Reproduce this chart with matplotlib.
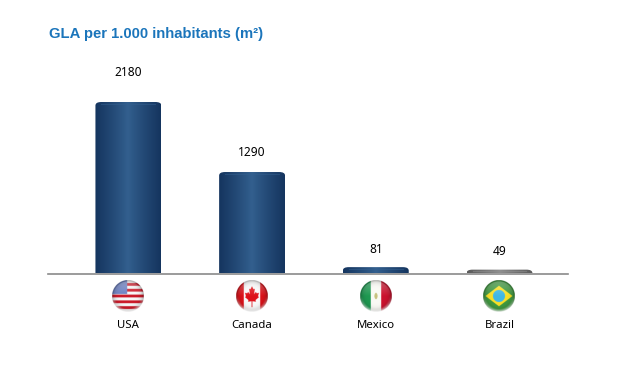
import numpy as np
import matplotlib
matplotlib.use('Agg')
import matplotlib.pyplot as plt
from matplotlib.patches import PathPatch
from matplotlib.path import Path

countries = ['USA', 'Canada', 'Mexico', 'Brazil']
gla_values = [2180, 1290, 81, 49]
label_gaps = [29, 20, 18, 18]  # px between bar top and the number
bar_edges = ['#15355f', '#15355f', '#15355f', '#5a5a5a']
bar_mids = ['#33608f', '#33608f', '#33608f', '#8f8f8f']

W, H = 631, 377
base_y = 273.5
px_per_unit = 171.5 / 2180

# maple leaf outline, right half, flag coordinates (v down)
leaf_half = [(0, -0.62), (0.10, -0.42), (0.18, -0.46), (0.13, -0.12), (0.25, -0.26), (0.29, -0.17),
             (0.44, -0.20), (0.38, 0.02), (0.44, 0.07), (0.22, 0.26), (0.25, 0.36), (0.03, 0.33),
             (0.03, 0.70)]


def flag_usa(u, v):
    img = np.ones(u.shape + (3,))
    stripes = np.floor((v + 1) / 2 * 11).astype(int) % 2 == 1
    img[stripes] = (0.80, 0.10, 0.16)
    img[~stripes] = (0.97, 0.97, 0.97)
    canton = (u < -0.05) & (v < -0.12)
    img[canton] = (0.42, 0.50, 0.76)
    return img


def flag_canada(u, v):
    img = np.ones(u.shape + (3,))
    img[:] = (0.98, 0.98, 0.98)
    red = (0.87, 0.07, 0.10)
    img[np.abs(u) > 0.52] = red
    outline = leaf_half + [(-a, b) for a, b in leaf_half[::-1]]
    pts = np.column_stack([u.ravel(), v.ravel()])
    leaf = Path(outline).contains_points(pts).reshape(u.shape)
    img[leaf] = red
    return img


def flag_mexico(u, v):
    img = np.ones(u.shape + (3,))
    img[:] = (0.98, 0.98, 0.96)
    img[u < -0.33] = (0.12, 0.60, 0.32)
    img[u > 0.33] = (0.80, 0.07, 0.18)
    emblem = (u / 0.10) ** 2 + (v / 0.20) ** 2 < 1
    img[emblem] = (0.78, 0.76, 0.50)
    return img


def flag_brazil(u, v):
    img = np.ones(u.shape + (3,))
    img[:] = (0.25, 0.60, 0.25)
    img[np.abs(u) / 0.85 + np.abs(v) / 0.65 < 1] = (0.98, 0.88, 0.15)
    img[u ** 2 + v ** 2 < 0.38 ** 2] = (0.25, 0.72, 0.90)
    return img


flag_funcs = [flag_usa, flag_canada, flag_mexico, flag_brazil]


def glossy_flag(func, n=160):
    vv, uu = np.mgrid[-1:1:n * 1j, -1:1:n * 1j]
    r = np.sqrt(uu ** 2 + vv ** 2)
    img = func(uu, vv)
    # darker rim, light top, white reflection along the bottom
    shade = 1 - 0.35 * np.clip(r, 0, 1) ** 6
    img = img * shade[..., None]
    gloss = 0.30 * np.clip(-vv, 0, 1) * (r < 0.92)
    img = img + (1 - img) * gloss[..., None]
    rim = np.clip((r - 0.80) / 0.20, 0, 1) * np.clip(vv, 0, 1) * 0.9
    img = img + (1 - img) * rim[..., None]
    alpha = (r <= 1).astype(float)
    return np.dstack([np.clip(img, 0, 1), alpha])


fig = plt.figure(figsize=(W / 100, H / 100), dpi=100, facecolor='white')

# main axes spans the baseline, y runs in data units
ax_left, ax_right, ax_top = 48, 568, 60
ax = fig.add_axes([ax_left / W, 1 - base_y / H, (ax_right - ax_left) / W, (base_y - ax_top) / H])
ax.set_xlim(-0.65, 3.554)
ax.set_ylim(0, (base_y - ax_top) / px_per_unit)
ax.axis('off')
ax.axhline(0, color='#8a8a8a', lw=1.2, clip_on=False, zorder=5)

x_pos = np.arange(len(countries))
bars = ax.bar(x_pos, gla_values, width=0.533, color='none')

x_scale = (ax_right - ax_left) / 4.204
for bar, top_c, mid_c, val in zip(bars, bar_edges, bar_mids, gla_values):
    x0, w = bar.get_x(), bar.get_width()
    edge = np.array(matplotlib.colors.to_rgb(top_c))
    mid = np.array(matplotlib.colors.to_rgb(mid_c))
    t = 1 - np.abs(np.linspace(-1, 1, 80)) ** 0.9
    grad = edge[None, :] * (1 - t[:, None]) + mid[None, :] * t[:, None]
    im = ax.imshow(grad[None, :, :], extent=[x0, x0 + w, 0, val], aspect='auto', zorder=2)
    # rounded shoulders at the top of each bar
    rx = 6 / x_scale
    ry = min(3.5 / px_per_unit, val * 0.9)
    verts = [(x0, 0), (x0, val - ry), (x0, val), (x0 + rx, val), (x0 + w - rx, val),
             (x0 + w, val), (x0 + w, val - ry), (x0 + w, 0), (x0, 0)]
    codes = [Path.MOVETO, Path.LINETO, Path.CURVE3, Path.CURVE3, Path.LINETO,
             Path.CURVE3, Path.CURVE3, Path.LINETO, Path.CLOSEPOLY]
    clip = PathPatch(Path(verts, codes), fc='none', ec='none', transform=ax.transData)
    ax.add_patch(clip)
    im.set_clip_path(clip)
    # thin light band under the top edge
    ax.plot([x0 + rx, x0 + w - rx], [val - 1.5 / px_per_unit] * 2,
            color=mid_c, lw=0.8, alpha=0.5, zorder=3)
ax.set_xlim(-0.65, 3.554)
ax.set_ylim(0, (base_y - ax_top) / px_per_unit)

for x, val, gap in zip(x_pos, gla_values, label_gaps):
    ax.annotate(str(val), (x, val), xytext=(0, gap * 0.72), textcoords='offset points',
                ha='center', va='center', fontsize=8.6, family='Noto Sans', color='black')

# overlay in pixel coordinates for the flag icons
ov = fig.add_axes([0, 0, 1, 1])
ov.set_xlim(0, W)
ov.set_ylim(H, 0)
ov.axis('off')
ov.patch.set_alpha(0)
flag_x = ax_left + (x_pos + 0.65) * x_scale
for cx, func, name in zip(flag_x, flag_funcs, countries):
    ov.imshow(glossy_flag(func), extent=[cx - 16, cx + 16, 312, 280], aspect='auto',
              interpolation='antialiased')
    ov.text(cx, 325.5, name, ha='center', va='center', fontsize=8.2, family='Noto Sans', color='black')
ov.set_xlim(0, W)
ov.set_ylim(H, 0)

ov.text(49, 34, 'GLA per 1.000 inhabitants (m²)', ha='left', va='center',
        fontsize=10.75, fontweight='bold', family='Liberation Sans', color='#1b75bb')

fig.savefig('out.png', dpi=100)
